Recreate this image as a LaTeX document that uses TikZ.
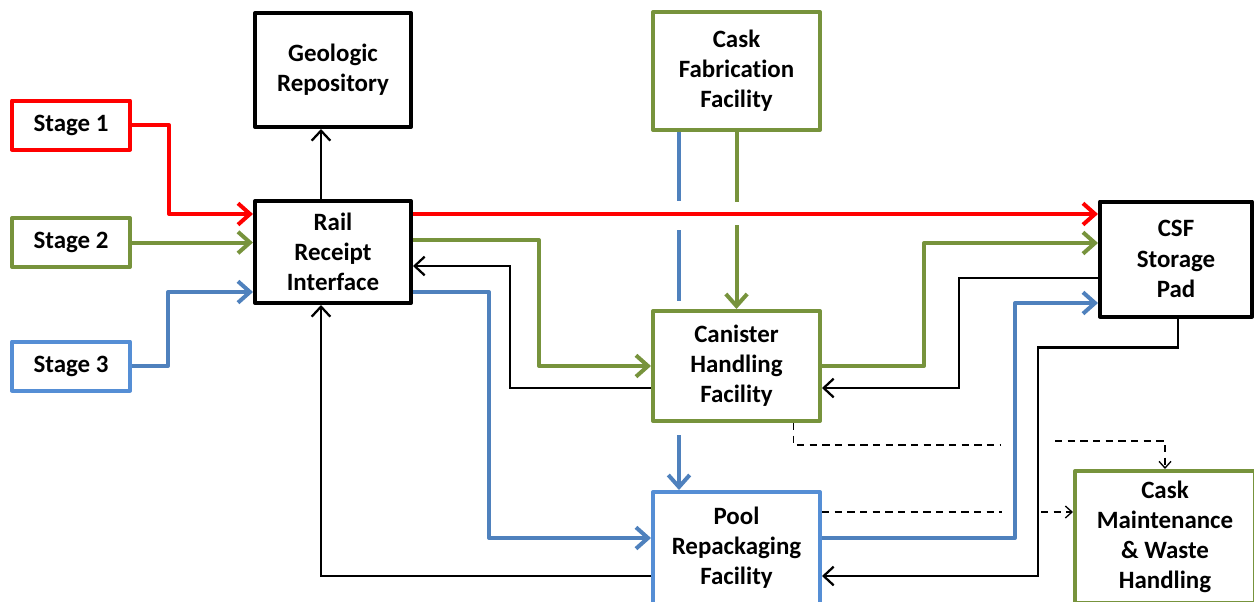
\documentclass[tikz,border=0pt]{standalone}
\usepackage{fontspec}
\setmainfont{Carlito}[Ligatures=NoCommon]
\usetikzlibrary{arrows.meta,calc}

\definecolor{redc}{RGB}{255,0,0}
\definecolor{greenc}{RGB}{119,147,60}
\definecolor{bluec}{RGB}{79,129,189}
\definecolor{blueb}{RGB}{85,142,213}

\tikzset{
  box/.style={draw, line width=3pt, line join=round, fill=white, align=center, inner sep=0pt,
    font=\fontsize{18.7}{22.6}\selectfont\bfseries},
  flow/.style={line width=3pt, line join=round, -{Straight Barb[length=9pt,width=16pt]}},
  back/.style={line width=1.7pt, -{Straight Barb[length=7.5pt,width=14pt]}},
  spill/.style={line width=1.1pt, dash pattern=on 5.5pt off 4pt},
  spillend/.style={spill, -{Straight Barb[length=5pt,width=9pt,line width=1pt]}}
}

\begin{document}
\begin{tikzpicture}[x=0.75pt,y=0.75pt,yscale=-1,xscale=1]
\clip (0,0) rectangle (1254,601);

%Shape: Stage boxes
\node [box, draw=redc, minimum width=88.5pt, minimum height=36.75pt] (st1) at (71,125) {Stage 1};
\node [box, draw=greenc, minimum width=88.5pt, minimum height=36.75pt] (st2) at (71,242.5) {Stage 2};
\node [box, draw=blueb, minimum width=88.5pt, minimum height=36.75pt] (st3) at (71,366) {Stage 3};

%Shape: Facilities
\node [box, minimum width=117pt, minimum height=85.5pt] (geo) at (333,70) {Geologic\\Repository};
\node [box, minimum width=117pt, minimum height=76.5pt] (rail) at (333,252) {Rail\\Receipt\\Interface};
\node [box, draw=greenc, minimum width=125.25pt, minimum height=88.5pt] (fab) at (736.5,71) {Cask\\Fabrication\\Facility};
\node [box, draw=greenc, minimum width=125.25pt, minimum height=82.5pt] (can) at (736.5,366) {Canister\\Handling\\Facility};
\node [box, draw=blueb, minimum width=125.25pt, minimum height=84pt] (pool) at (736.5,548) {Pool\\Repackaging\\Facility};
\node [box, draw=greenc, minimum width=135pt, minimum height=99pt] (maint) at (1165,537) {Cask\\Maintenance\\\& Waste\\Handling};
\node [box, minimum width=114pt, minimum height=86.25pt] (csf) at (1176,259) {CSF\\Storage\\Pad};

%Shape: Stage inputs
\draw [flow, redc] (st1.east) -- ++(37,0) |- ($(rail.west)+(0,-38)$);
\draw [flow, greenc] (st2.east) -- (st2.east -| rail.west);
\draw [flow, bluec] (st3.east) -- ++(36,0) |- ($(rail.west)+(0,40)$);

%Shape: Rail receipt links
\draw [back] ($(rail.north)+(-12,0)$) -- ($(geo.south)+(-12,0)$);
\draw [flow, redc] ($(rail.east)+(0,-38)$) coordinate (redout) -- (redout -| csf.west);
\draw [flow, greenc] ($(rail.east)+(0,-12)$) -- ++(126,0) |- (can.west);
\draw [back] ($(can.west)+(0,22)$) -- ++(-141,0) |- ($(rail.east)+(0,14)$);
\draw [flow, bluec] ($(rail.east)+(0,40)$) -- ++(76,0) |- ($(pool.west)+(0,-10)$);
\draw [back] ($(pool.west)+(0,28)$) -| ($(rail.south)+(-12,0)$);

%Shape: Cask fabrication feeds (broken at crossings)
\draw [line width=3pt, bluec] ($(fab.south)+(-57.5,0)$) -- ++(0,69);
\draw [line width=3pt, bluec] ($(can.north)+(-57.5,-79)$) -- ($(can.north)+(-57.5,-8)$);
\draw [flow, bluec] ($(can.south)+(-57.5,12)$) -- ($(pool.north)+(-57.5,0)$);
\draw [line width=3pt, greenc] (fab.south) -- ++(0,70);
\draw [flow, greenc] ($(can.north)+(0,-84)$) -- (can.north);

%Shape: Storage pad links
\draw [flow, greenc] (can.east) -- ++(102,0) |- ($(csf.west)+(0,-16)$);
\draw [back] ($(csf.west)+(0,19)$) -- ++(-139,0) |- ($(can.east)+(0,22)$);
\draw [flow, bluec] ($(pool.east)+(0,-10)$) -- ++(193,0) |- ($(csf.west)+(0,44)$);
\draw [back] ($(csf.south)+(2,0)$) -- ++(0,29) -- ++(-140,0) |- ($(pool.east)+(0,28)$);

%Shape: Dashed links to maintenance
\draw [spill] ($(can.south)+(57,0)$) -- ++(0,22) -- ++(207,0);
\draw [spillend] ($(maint.north)+(-110,-28)$) -| (maint.north);
\draw [spill] ($(pool.east)+(0,-36)$) -- ++(180,0);
\draw [spillend] ($(maint.west)+(-32,-25)$) -- ($(maint.west)+(0,-25)$);

\end{tikzpicture}
\end{document}
